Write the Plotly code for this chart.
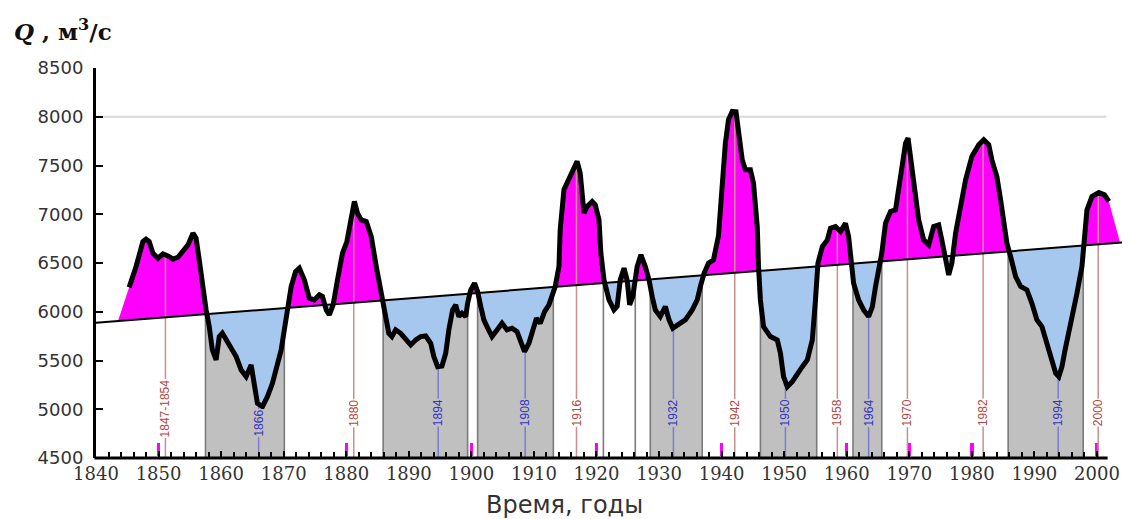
import numpy as np
import plotly.graph_objects as go

# ---------------- data ----------------
years = [1845.3, 1846.4, 1847.5, 1848.0, 1848.5, 1849.1, 1849.9, 1850.7, 1851.5, 1852.3,
         1853.1, 1853.9, 1854.7, 1855.5, 1856.0, 1856.5, 1857.0, 1857.6, 1858.1, 1858.6,
         1859.2, 1859.7, 1860.2, 1860.8, 1861.6, 1862.4, 1863.2, 1864.0, 1864.8, 1865.3,
         1865.8, 1866.6, 1867.4, 1868.2, 1869.0, 1869.6, 1870.1, 1870.6, 1871.2, 1871.9,
         1872.5, 1873.3, 1874.1, 1874.9, 1875.7, 1876.2, 1876.8, 1877.3, 1877.9, 1878.6,
         1879.4, 1880.1, 1880.8, 1881.3, 1881.8, 1882.4, 1883.2, 1884.0, 1884.8, 1885.6,
         1886.3, 1886.8, 1887.3, 1887.9, 1888.7, 1889.5, 1890.3, 1891.1, 1891.9, 1892.7,
         1893.5, 1894.0, 1894.6, 1895.3, 1895.9, 1896.4, 1897.0, 1897.5, 1898.0, 1898.5,
         1899.1, 1899.4, 1899.9, 1900.5, 1901.0, 1901.5, 1902.0, 1902.5, 1903.3, 1904.1,
         1904.9, 1905.7, 1906.5, 1907.3, 1907.8, 1908.5, 1909.2, 1909.9, 1910.4, 1911.0,
         1911.7, 1912.4, 1912.9, 1913.4, 1914.0, 1914.2, 1914.8, 1915.6, 1916.4, 1916.9,
         1917.4, 1918.0, 1918.5, 1919.3, 1919.8, 1920.4, 1920.7, 1921.2, 1922.0, 1922.8,
         1923.3, 1923.8, 1924.4, 1924.9, 1925.3, 1925.8, 1926.5, 1927.1, 1927.8, 1928.4,
         1928.9, 1929.4, 1930.2, 1931.0, 1931.6, 1932.2, 1933.1, 1934.2, 1935.3, 1936.1,
         1936.6, 1937.2, 1937.9, 1938.7, 1939.5, 1940.1, 1940.6, 1941.1, 1941.7, 1942.3,
         1942.9, 1943.3, 1943.8, 1944.6, 1945.1, 1945.7, 1945.9, 1946.2, 1946.7, 1947.8,
         1948.9, 1949.4, 1949.9, 1950.5, 1951.3, 1952.1, 1952.9, 1953.7, 1954.5, 1955.0,
         1955.4, 1956.1, 1956.9, 1957.4, 1958.2, 1959.0, 1959.8, 1960.3, 1960.7, 1961.1,
         1961.9, 1962.7, 1963.5, 1964.1, 1964.6, 1965.1, 1965.6, 1966.2, 1967.0, 1967.8,
         1968.3, 1968.8, 1969.4, 1969.8, 1970.2, 1970.7, 1971.5, 1972.3, 1973.1, 1973.9,
         1974.7, 1975.2, 1975.8, 1976.3, 1976.8, 1977.4, 1978.2, 1979.0, 1980.0, 1981.1,
         1981.9, 1982.7, 1983.2, 1984.0, 1984.6, 1985.1, 1985.6, 1986.2, 1987.0, 1987.8,
         1988.8, 1989.6, 1990.4, 1991.2, 1992.0, 1992.8, 1993.4, 1993.9, 1994.4, 1994.9,
         1995.5, 1996.0, 1996.8, 1997.6, 1998.0, 1998.4, 1999.2, 2000.3, 2001.2, 2001.9]
flow = [6250, 6464, 6720, 6744, 6720, 6600, 6549, 6594, 6573, 6539,
        6559, 6618, 6686, 6806, 6754, 6532, 6258, 6019, 5848, 5608,
        5506, 5745, 5780, 5711, 5643, 5540, 5403, 5335, 5454, 5266,
        5061, 5027, 5129, 5266, 5437, 5608, 5814, 6019, 6258, 6412,
        6446, 6327, 6139, 6121, 6173, 6156, 6019, 5968, 6070, 6327,
        6600, 6720, 6977, 7131, 7011, 6942, 6925, 6771, 6464, 6190,
        5951, 5779, 5745, 5814, 5779, 5711, 5660, 5711, 5745, 5752,
        5677, 5540, 5437, 5444, 5574, 5814, 6019, 6070, 5951, 5985,
        5951, 6087, 6224, 6293, 6207, 6053, 5916, 5848, 5745, 5814,
        5882, 5814, 5831, 5797, 5711, 5591, 5677, 5848, 5934, 5882,
        6002, 6070, 6173, 6259, 6464, 6841, 7251, 7354, 7456, 7542,
        7422, 7012, 7080, 7131, 7097, 6943, 6601, 6327, 6122, 6019,
        6054, 6327, 6447, 6327, 6071, 6156, 6464, 6584, 6464, 6327,
        6156, 6019, 5951, 6054, 5917, 5831, 5870, 5916, 6019, 6121,
        6258, 6395, 6498, 6532, 6780, 7319, 7729, 7969, 8054, 8050,
        7798, 7558, 7456, 7456, 7319, 6874, 6464, 6121, 5848, 5745,
        5711, 5574, 5335, 5232, 5283, 5369, 5437, 5506, 5711, 6121,
        6498, 6669, 6737, 6857, 6874, 6823, 6908, 6771, 6532, 6292,
        6121, 6019, 5950, 6053, 6258, 6429, 6600, 6908, 7028, 7045,
        7285, 7524, 7729, 7781, 7560, 7285, 6943, 6737, 6686, 6874,
        6891, 6737, 6532, 6378, 6498, 6806, 7080, 7353, 7593, 7712,
        7764, 7712, 7558, 7387, 7148, 6943, 6703, 6566, 6361, 6259,
        6224, 6087, 5916, 5848, 5677, 5506, 5369, 5335, 5437, 5608,
        5779, 5916, 6190, 6464, 6772, 7045, 7182, 7223, 7199, 7131]

trend_years = [1840.0, 2004.0]
trend_flow = [5886, 6710]
pink_start, pink_end = 1843.5, 2003.7

low_bands = [(1857.5, 1870.1), (1885.9, 1899.4), (1901.0, 1913.1), (1928.6, 1936.9),
             (1946.2, 1955.2), (1961.0, 1965.6), (1985.8, 1997.8)]
extra_edges = [1921.1, 1926.2]

high_labels = ["1847-1854", "1880", "1916", "1942", "1958", "1970", "1982", "2000"]
high_x = [1851.1, 1881.2, 1916.8, 1942.1, 1958.5, 1969.7, 1981.8, 2000.2]
high_label_q = [5013, 4962, 4962, 4962, 4962, 4962, 4962, 4962]
low_labels = ["1866", "1894", "1908", "1932", "1950", "1964", "1994"]
low_x = [1866.0, 1894.7, 1908.6, 1932.3, 1950.2, 1963.5, 1993.8]
low_label_q = [4860, 4962, 4962, 4962, 4962, 4962, 4962]

decades = list(range(1840, 2001, 10))
marker_decades = list(range(1850, 2001, 10))
y_ticks = list(range(4500, 8501, 500))

# ---------------- computations ----------------
yr = np.array(years, float)
fq = np.array(flow, float)
YMIN = 4500


def trend(x):
    return np.interp(x, trend_years, trend_flow)


xe = np.r_[pink_start, yr, pink_end]
qe = np.r_[trend(pink_start), fq, trend(pink_end)]
d = qe - trend(xe)
px_, pq_ = [xe[0]], [qe[0]]
for i in range(1, len(xe)):
    if d[i - 1] * d[i] < 0:
        t = d[i - 1] / (d[i - 1] - d[i])
        xc = xe[i - 1] + t * (xe[i] - xe[i - 1])
        px_.append(xc)
        pq_.append(float(trend(xc)))
    px_.append(xe[i])
    pq_.append(qe[i])
px_ = np.array(px_)
pq_ = np.array(pq_)
tr = trend(px_)
upper = np.maximum(pq_, tr)
lower = np.minimum(pq_, tr)

GRAY = "#c0c0c0"
fig = go.Figure()

# gray low-water bands (below curve)
for a, b in low_bands:
    m = (yr > a) & (yr < b)
    bx = np.r_[a, yr[m], b, b, a]
    by = np.r_[np.interp(a, yr, fq), fq[m], np.interp(b, yr, fq), YMIN, YMIN]
    fig.add_trace(go.Scatter(x=bx, y=by, fill="toself", fillcolor=GRAY, mode="lines",
                             line=dict(width=0), hoverinfo="skip"))

# band edge lines
ex, ey = [], []
for e in [v for ab in low_bands for v in ab] + extra_edges:
    ex += [e, e, None]
    ey += [YMIN, float(np.interp(e, yr, fq)), None]
fig.add_trace(go.Scatter(x=ex, y=ey, mode="lines", line=dict(color="#7a7a7a", width=1.6),
                         hoverinfo="skip"))

# pink (above trend) fill
fig.add_trace(go.Scatter(x=px_, y=tr, mode="lines", line=dict(width=0), hoverinfo="skip"))
fig.add_trace(go.Scatter(x=px_, y=upper, mode="lines", line=dict(width=0), fill="tonexty",
                         fillcolor="#ff00ff", hoverinfo="skip"))
# blue (below trend) fill
fig.add_trace(go.Scatter(x=px_, y=tr, mode="lines", line=dict(width=0), hoverinfo="skip"))
fig.add_trace(go.Scatter(x=px_, y=lower, mode="lines", line=dict(width=0), fill="tonexty",
                         fillcolor="#a6c8ee", hoverinfo="skip"))

# year marker lines
hx, hy = [], []
for x in high_x:
    hx += [x, x, None]
    hy += [YMIN, float(np.interp(x, yr, fq)), None]
fig.add_trace(go.Scatter(x=hx, y=hy, mode="lines", line=dict(color="#c98f8f", width=1.5),
                         hoverinfo="skip"))
lx, ly = [], []
for x in low_x:
    lx += [x, x, None]
    ly += [YMIN, float(np.interp(x, yr, fq)), None]
fig.add_trace(go.Scatter(x=lx, y=ly, mode="lines", line=dict(color="#7b7bd6", width=1.5),
                         hoverinfo="skip"))

# trend line
fig.add_trace(go.Scatter(x=trend_years, y=trend_flow, mode="lines",
                         line=dict(color="black", width=2), hoverinfo="skip"))
# main curve
fig.add_trace(go.Scatter(x=yr, y=fq, mode="lines", line=dict(color="black", width=5),
                         hoverinfo="skip"))

# magenta decade markers
fig.add_trace(go.Bar(x=marker_decades, y=[125] * len(marker_decades), base=4525, width=0.55,
                     marker=dict(color="#ff00ff", line=dict(width=0)), hoverinfo="skip"))


def in_band(x):
    return any(a <= x <= b for a, b in low_bands)


anns = []
for lab, x, q in zip(high_labels, high_x, high_label_q):
    anns.append(dict(x=x, y=q, xref="x", yref="y", text=lab, showarrow=False, textangle=-90,
                     font=dict(family="Liberation Sans", size=12, color="#b04a40"),
                     bgcolor=GRAY if in_band(x) else "white", borderpad=0))
for lab, x, q in zip(low_labels, low_x, low_label_q):
    anns.append(dict(x=x, y=q, xref="x", yref="y", text=lab, showarrow=False, textangle=-90,
                     font=dict(family="Liberation Sans", size=12, color="#3434c4"),
                     bgcolor=GRAY if in_band(x) else "white", borderpad=0))

anns.append(dict(x=-0.082, y=1.097, xref="paper", yref="paper", xanchor="left", yanchor="middle",
                 text="<i>Q</i> , м<sup>3</sup>/с", showarrow=False,
                 font=dict(family="DejaVu Serif", size=23, color="#111111", weight="bold")))
anns.append(dict(x=0.457, y=-0.12, xref="paper", yref="paper", xanchor="center", yanchor="middle",
                 text="Время, годы", showarrow=False,
                 font=dict(family="DejaVu Sans", size=24, color="#333333")))

x_end_paper = (2001.7 - 1840) / 164.0
shapes = [
    dict(type="line", xref="paper", yref="y", x0=0, x1=(2001.5 - 1840) / 164.0, y0=8000, y1=8000,
         line=dict(color="#d8d8d8", width=2), layer="below"),
    dict(type="line", xref="paper", yref="paper", x0=-0.0015, x1=x_end_paper, y0=0, y1=0,
         line=dict(color="black", width=3), layer="above"),
]

minor_vals = [v for v in range(1842, 2001, 2) if v % 10 != 0]

fig.update_layout(
    width=1135, height=519,
    margin=dict(l=96, r=13, t=68, b=61),
    paper_bgcolor="white", plot_bgcolor="white",
    showlegend=False,
    annotations=anns,
    shapes=shapes,
    bargap=0,
    xaxis=dict(range=[1840, 2004], showgrid=False, zeroline=False, showline=False,
               tickmode="array", tickvals=decades, ticktext=[str(v) for v in decades],
               ticks="inside", ticklen=7, tickwidth=2, tickcolor="black",
               tickfont=dict(family="DejaVu Serif", size=18, color="#333333"),
               ticklabelstandoff=3,
               minor=dict(tickmode="array", tickvals=minor_vals, ticks="inside", ticklen=6,
                          tickwidth=2, tickcolor="black")),
    yaxis=dict(range=[4500, 8500], showgrid=False, zeroline=False, showline=True,
               linecolor="black", linewidth=3, tickmode="array", tickvals=y_ticks,
               ticks="inside", ticklen=7, tickwidth=2, tickcolor="black",
               tickfont=dict(family="DejaVu Sans", size=18, color="#333333"),
               ticklabelstandoff=6),
)

fig.write_html("out.html")
